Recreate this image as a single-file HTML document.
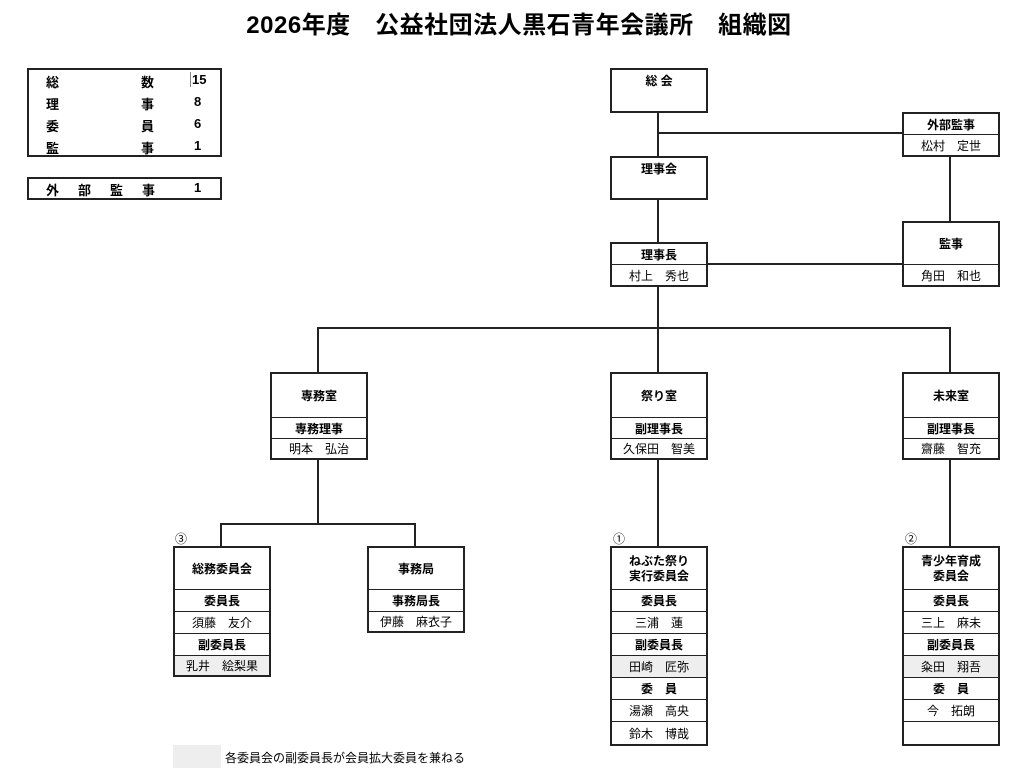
<!DOCTYPE html>
<html><head><meta charset="utf-8"><style>
body{margin:0;width:1024px;height:783px;background:#fff;position:relative;font-family:"Liberation Sans","Noto Sans CJK JP",sans-serif;color:#000;overflow:hidden}
.a{position:absolute}
.box{position:absolute;border:2px solid #222;box-sizing:border-box;background:#fff}
.r{position:absolute;left:0;right:0;box-sizing:border-box;border-top:1.5px solid #222;text-align:center;font-size:12px;display:flex;align-items:center;justify-content:center}
.r.f{border-top:none}
.b{font-weight:bold}
.g{background:#eeeeee}
.h{position:absolute;height:2px;background:#222}
.v{position:absolute;width:2px;background:#222}
.t{position:absolute;font-size:13px;font-weight:bold}
</style></head><body>
<div class="a b" style="left:0;width:1038px;top:5px;text-align:center;font-size:24px;letter-spacing:0.5px">2026年度　公益社団法人黒石青年会議所　組織図</div>

<div class="box" style="left:27px;top:68px;width:195px;height:89px"></div>
<div class="t" style="left:46px;top:72px">総</div><div class="t" style="left:141px;top:72px">数</div><div class="t" style="left:190px;top:72px;border-left:1px solid #888;padding-left:1px">15</div>
<div class="t" style="left:46px;top:94px">理</div><div class="t" style="left:141px;top:94px">事</div><div class="t" style="left:194px;top:94px">8</div>
<div class="t" style="left:46px;top:116px">委</div><div class="t" style="left:141px;top:116px">員</div><div class="t" style="left:194px;top:116px">6</div>
<div class="t" style="left:46px;top:138px">監</div><div class="t" style="left:141px;top:138px">事</div><div class="t" style="left:194px;top:138px">1</div>
<div class="box" style="left:27px;top:177px;width:195px;height:23px"></div>
<div class="t" style="left:46px;top:180px;letter-spacing:19px">外部監事</div><div class="t" style="left:194px;top:180px">1</div>

<!-- lines -->
<div class="v" style="left:657px;top:112px;height:44px"></div>
<div class="h" style="left:657px;top:132px;width:246px"></div>
<div class="v" style="left:657px;top:199px;height:43px"></div>
<div class="v" style="left:949px;top:156px;height:65px"></div>
<div class="h" style="left:706px;top:263px;width:197px"></div>
<div class="v" style="left:657px;top:286px;height:86px"></div>
<div class="h" style="left:317px;top:327px;width:634px"></div>
<div class="v" style="left:317px;top:327px;height:45px"></div>
<div class="v" style="left:949px;top:327px;height:45px"></div>
<div class="v" style="left:317px;top:459px;height:65px"></div>
<div class="h" style="left:220px;top:523px;width:196px"></div>
<div class="v" style="left:220px;top:523px;height:23px"></div>
<div class="v" style="left:414px;top:523px;height:23px"></div>
<div class="v" style="left:657px;top:459px;height:87px"></div>
<div class="v" style="left:949px;top:459px;height:87px"></div>

<div class="box" style="left:610px;top:68px;width:98px;height:45px"><div class="r f b" style="top:2px;height:16px">総 会</div></div>
<div class="box" style="left:902px;top:112px;width:98px;height:45px"><div class="r f b" style="top:0;height:20px">外部監事</div><div class="r" style="top:20px;height:21px">松村　定世</div></div>
<div class="box" style="left:610px;top:156px;width:98px;height:44px"><div class="r f b" style="top:2px;height:16px">理事会</div></div>
<div class="box" style="left:610px;top:242px;width:98px;height:45px"><div class="r f b" style="top:0;height:20px">理事長</div><div class="r" style="top:20px;height:21px">村上　秀也</div></div>
<div class="box" style="left:902px;top:221px;width:98px;height:66px"><div class="r f b" style="top:0;height:41px">監事</div><div class="r" style="top:41px;height:21px">角田　和也</div></div>

<div class="box" style="left:270px;top:372px;width:98px;height:88px"><div class="r f b" style="top:0;height:43px">専務室</div><div class="r b" style="top:43px;height:21px">専務理事</div><div class="r" style="top:64px;height:20px">明本　弘治</div></div>
<div class="box" style="left:610px;top:372px;width:98px;height:88px"><div class="r f b" style="top:0;height:43px">祭り室</div><div class="r b" style="top:43px;height:21px">副理事長</div><div class="r" style="top:64px;height:20px">久保田　智美</div></div>
<div class="box" style="left:902px;top:372px;width:98px;height:88px"><div class="r f b" style="top:0;height:43px">未来室</div><div class="r b" style="top:43px;height:21px">副理事長</div><div class="r" style="top:64px;height:20px">齋藤　智充</div></div>

<div class="a" style="left:175px;top:530px;font-size:12px">③</div>
<div class="a" style="left:613px;top:530px;font-size:12px">①</div>
<div class="a" style="left:905px;top:530px;font-size:12px">②</div>

<div class="box" style="left:173px;top:546px;width:98px;height:131px">
<div class="r f b" style="top:0;height:41px">総務委員会</div>
<div class="r b" style="top:41px;height:22px">委員長</div>
<div class="r" style="top:63px;height:22px">須藤　友介</div>
<div class="r b" style="top:85px;height:22px">副委員長</div>
<div class="r g" style="top:107px;height:20px">乳井　絵梨果</div></div>

<div class="box" style="left:367px;top:546px;width:98px;height:87px">
<div class="r f b" style="top:0;height:41px">事務局</div>
<div class="r b" style="top:41px;height:22px">事務局長</div>
<div class="r" style="top:63px;height:20px">伊藤　麻衣子</div></div>

<div class="box" style="left:610px;top:546px;width:98px;height:200px">
<div class="r f b" style="top:0;height:41px;line-height:15px">ねぶた祭り<br>実行委員会</div>
<div class="r b" style="top:41px;height:22px">委員長</div>
<div class="r" style="top:63px;height:22px">三浦　蓮</div>
<div class="r b" style="top:85px;height:22px">副委員長</div>
<div class="r g" style="top:107px;height:22px">田崎　匠弥</div>
<div class="r b" style="top:129px;height:22px">委　員</div>
<div class="r" style="top:151px;height:22px">湯瀬　高央</div>
<div class="r" style="top:173px;height:23px">鈴木　博哉</div></div>

<div class="box" style="left:902px;top:546px;width:98px;height:200px">
<div class="r f b" style="top:0;height:41px;line-height:15px">青少年育成<br>委員会</div>
<div class="r b" style="top:41px;height:22px">委員長</div>
<div class="r" style="top:63px;height:22px">三上　麻未</div>
<div class="r b" style="top:85px;height:22px">副委員長</div>
<div class="r g" style="top:107px;height:22px">粂田　翔吾</div>
<div class="r b" style="top:129px;height:22px">委　員</div>
<div class="r" style="top:151px;height:22px">今　拓朗</div>
<div class="r" style="top:173px;height:23px"></div></div>

<div class="a" style="left:173px;top:745px;width:48px;height:23px;background:#eeeeee"></div>
<div class="a" style="left:225px;top:749px;font-size:12px">各委員会の副委員長が会員拡大委員を兼ねる</div>
</body></html>
